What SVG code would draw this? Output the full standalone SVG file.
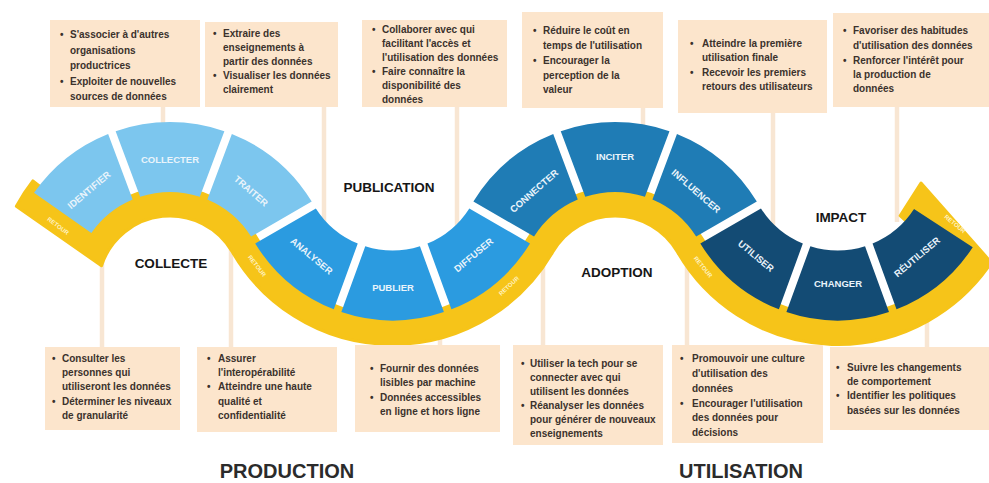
<svg xmlns="http://www.w3.org/2000/svg" width="989" height="483" viewBox="0 0 989 483">
<style>
.bx{fill:#FCE5CC}
.bt{font-family:"Liberation Sans",Arial,sans-serif;font-weight:bold;font-size:10px;fill:#3B322C}
.sl{font-family:"Liberation Sans",Arial,sans-serif;font-weight:bold;font-size:9.5px;fill:#EAF4FB;text-anchor:middle}
.ph{font-family:"Liberation Sans",Arial,sans-serif;font-weight:bold;font-size:13.5px;fill:#161616;text-anchor:middle}
.big{font-family:"Liberation Sans",Arial,sans-serif;font-weight:bold;font-size:20px;fill:#2B2B2B;text-anchor:middle}
.rt{font-family:"Liberation Sans",Arial,sans-serif;font-weight:bold;font-size:6px;fill:#FFF3C4;text-anchor:middle}
.cn line{stroke:#F8E6D3;stroke-width:4.5}
.y{fill:#F6C419;stroke:#F6C419;stroke-width:3;stroke-linejoin:round}
.c1{fill:#7CC6EE}.c2{fill:#2B9BE0}.c3{fill:#1F7CB5}.c4{fill:#134B74}
</style>
<rect width="989" height="483" fill="#fff"/>
<g id="connectors" class="cn">
<line x1="163" y1="105" x2="163" y2="135"/>
<line x1="324" y1="105" x2="324" y2="225"/>
<line x1="457" y1="105" x2="457" y2="228"/>
<line x1="643" y1="106" x2="643" y2="135"/>
<line x1="773" y1="111" x2="773" y2="228"/>
<line x1="897" y1="105" x2="897" y2="222"/>
<line x1="102" y1="349" x2="102" y2="260"/>
<line x1="231" y1="349" x2="231" y2="246"/>
<line x1="440" y1="347" x2="440" y2="336"/>
<line x1="543" y1="347" x2="543" y2="262"/>
<line x1="687" y1="347" x2="687" y2="262"/>
<line x1="927" y1="349" x2="927" y2="318"/>
</g>
<g id="band">
<path class="y" d="M16.37 206.31 A174 174 0 0 1 32.89 180.88 L91.2 226.43 A100 100 0 0 1 256.6 238 A157 157 0 0 0 528.57 238 A100 100 0 0 1 701.7 238 A157 157 0 0 0 954.37 264.55 L900.12 215.7 L921 183 L991.35 262.56 A185 185 0 0 1 677.49 252 A72 72 0 0 0 552.75 252 A185 185 0 0 1 232.39 252 A72 72 0 0 0 101.52 265.75 Z"/>
<text class="rt" transform="translate(58 226) rotate(37)" dy="2">RETOUR</text>
<text class="rt" transform="translate(257 266) rotate(52)" dy="2">RETOUR</text>
<text class="rt" transform="translate(509 286) rotate(-43)" dy="2">RETOUR</text>
<text class="rt" transform="translate(703 267) rotate(51)" dy="2">RETOUR</text>
<text class="rt" transform="translate(955 224) rotate(40)" dy="2">RETOUR</text>
</g>
<g id="identifier"><path class="c1" d="M34.02 192.79 A166 166 0 0 1 108.13 133.96 L132.66 199.56 A96 96 0 0 0 91.36 232.94 Z"/><text class="sl" transform="translate(89 190) rotate(-40)" dy="3.3">IDENTIFIER</text></g>
<g id="collecter"><path class="c1" d="M115.63 131.16 A166 166 0 0 1 224.37 131.16 L199.84 196.76 A96 96 0 0 0 140.16 196.76 Z"/><text class="sl" x="170" y="160" dy="3.3">COLLECTER</text></g>
<g id="traiter"><path class="c1" d="M231.87 133.96 A166 166 0 0 1 311.72 201.56 L251.07 236.58 A96 96 0 0 0 207.34 199.56 Z"/><text class="sl" transform="translate(251 191) rotate(41)" dy="3.3">TRAITER</text></g>
<g id="analyser"><path class="c2" d="M255.21 243.44 A161 161 0 0 0 333.79 309.37 L357.75 243.56 A91 91 0 0 1 315.87 208.42 Z"/><text class="sl" transform="translate(311.6 256) rotate(40)" dy="3.3">ANALYSER</text></g>
<g id="publier"><path class="c2" d="M341.31 312.11 A161 161 0 0 0 443.89 312.11 L419.94 246.3 A91 91 0 0 1 365.26 246.3 Z"/><text class="sl" x="393" y="288" dy="3.3">PUBLIER</text></g>
<g id="diffuser"><path class="c2" d="M451.41 309.37 A161 161 0 0 0 529.99 243.44 L469.33 208.42 A91 91 0 0 1 427.45 243.56 Z"/><text class="sl" transform="translate(473.6 255) rotate(-40)" dy="3.3">DIFFUSER</text></g>
<g id="connecter"><path class="c3" d="M473.38 201.56 A166 166 0 0 1 553.23 133.96 L577.76 199.56 A96 96 0 0 0 534.03 236.58 Z"/><text class="sl" transform="translate(534 191) rotate(-41)" dy="3.3">CONNECTER</text></g>
<g id="inciter"><path class="c3" d="M560.73 131.16 A166 166 0 0 1 669.47 131.16 L644.94 196.76 A96 96 0 0 0 585.26 196.76 Z"/><text class="sl" x="615" y="157" dy="3.3">INCITER</text></g>
<g id="influencer"><path class="c3" d="M676.97 133.96 A166 166 0 0 1 756.82 201.56 L696.17 236.58 A96 96 0 0 0 652.44 199.56 Z"/><text class="sl" transform="translate(696 191) rotate(41)" dy="3.3">INFLUENCER</text></g>
<g id="utiliser"><path class="c4" d="M700.31 243.44 A161 161 0 0 0 778.89 309.37 L802.85 243.56 A91 91 0 0 1 760.97 208.42 Z"/><text class="sl" transform="translate(756 256) rotate(40)" dy="3.3">UTILISER</text></g>
<g id="changer"><path class="c4" d="M786.41 312.11 A161 161 0 0 0 888.99 312.11 L865.04 246.3 A91 91 0 0 1 810.36 246.3 Z"/><text class="sl" x="838" y="284" dy="3.3">CHANGER</text></g>
<g id="reutiliser"><path class="c4" d="M896.51 309.37 A161 161 0 0 0 972.73 247.19 L914.02 209.06 A91 91 0 0 1 872.55 243.56 Z"/><text class="sl" transform="translate(917 257) rotate(-40)" dy="3.3">RÉUTILISER</text></g>
<g id="phases">
<text class="ph" x="171" y="268">COLLECTE</text>
<text class="ph" x="389" y="192">PUBLICATION</text>
<text class="ph" x="617" y="277">ADOPTION</text>
<text class="ph" x="841" y="222">IMPACT</text>
<text class="big" x="287" y="478">PRODUCTION</text>
<text class="big" x="741" y="478">UTILISATION</text>
</g>
<g id="box-t1"><rect class="bx" x="50" y="20" width="150" height="87"/><text class="bt"><tspan x="60" y="38">•</tspan><tspan x="70" y="38">S'associer à d'autres</tspan><tspan x="70" y="53.5">organisations</tspan><tspan x="70" y="69">productrices</tspan><tspan x="60" y="84.5">•</tspan><tspan x="70" y="84.5">Exploiter de nouvelles</tspan><tspan x="70" y="100">sources de données</tspan></text></g>
<g id="box-t2"><rect class="bx" x="205" y="22" width="133" height="85"/><text class="bt"><tspan x="213" y="37">•</tspan><tspan x="223" y="37">Extraire des</tspan><tspan x="223" y="51">enseignements à</tspan><tspan x="223" y="65">partir des données</tspan><tspan x="213" y="79">•</tspan><tspan x="223" y="79">Visualiser les données</tspan><tspan x="223" y="93">clairement</tspan></text></g>
<g id="box-t3"><rect class="bx" x="362" y="20" width="145" height="87"/><text class="bt"><tspan x="372" y="33">•</tspan><tspan x="382" y="33">Collaborer avec qui</tspan><tspan x="382" y="47">facilitant l'accès et</tspan><tspan x="382" y="61">l'utilisation des données</tspan><tspan x="372" y="75">•</tspan><tspan x="382" y="75">Faire connaître la</tspan><tspan x="382" y="89">disponibilité des</tspan><tspan x="382" y="103">données</tspan></text></g>
<g id="box-t4"><rect class="bx" x="522" y="12" width="141" height="96"/><text class="bt"><tspan x="533" y="34">•</tspan><tspan x="543" y="34">Réduire le coût en</tspan><tspan x="543" y="49">temps de l'utilisation</tspan><tspan x="533" y="64">•</tspan><tspan x="543" y="64">Encourager la</tspan><tspan x="543" y="79">perception de la</tspan><tspan x="543" y="93">valeur</tspan></text></g>
<g id="box-t5"><rect class="bx" x="678" y="20" width="149" height="93"/><text class="bt"><tspan x="690" y="47">•</tspan><tspan x="702" y="47">Atteindre la première</tspan><tspan x="702" y="61">utilisation finale</tspan><tspan x="690" y="76">•</tspan><tspan x="702" y="76">Recevoir les premiers</tspan><tspan x="702" y="90">retours des utilisateurs</tspan></text></g>
<g id="box-t6"><rect class="bx" x="833" y="13" width="156" height="94"/><text class="bt"><tspan x="843" y="34">•</tspan><tspan x="853" y="34">Favoriser des habitudes</tspan><tspan x="853" y="49">d'utilisation des données</tspan><tspan x="843" y="64">•</tspan><tspan x="853" y="64">Renforcer l'intérêt pour</tspan><tspan x="853" y="78">la production de</tspan><tspan x="853" y="92">données</tspan></text></g>
<g id="box-b1"><rect class="bx" x="45" y="347" width="135" height="83"/><text class="bt"><tspan x="52" y="362">•</tspan><tspan x="62" y="362">Consulter les</tspan><tspan x="62" y="376">personnes qui</tspan><tspan x="62" y="390">utiliseront les données</tspan><tspan x="52" y="405">•</tspan><tspan x="62" y="405">Déterminer les niveaux</tspan><tspan x="62" y="419">de granularité</tspan></text></g>
<g id="box-b2"><rect class="bx" x="197" y="347" width="140" height="85"/><text class="bt"><tspan x="207" y="362">•</tspan><tspan x="218" y="362">Assurer</tspan><tspan x="218" y="376">l'interopérabilité</tspan><tspan x="207" y="390">•</tspan><tspan x="218" y="390">Atteindre une haute</tspan><tspan x="218" y="405">qualité et</tspan><tspan x="218" y="419">confidentialité</tspan></text></g>
<g id="box-b3"><rect class="bx" x="355" y="345" width="145" height="87"/><text class="bt"><tspan x="370" y="372">•</tspan><tspan x="380" y="372">Fournir des données</tspan><tspan x="380" y="386">lisibles par machine</tspan><tspan x="370" y="401">•</tspan><tspan x="380" y="401">Données accessibles</tspan><tspan x="380" y="415">en ligne et hors ligne</tspan></text></g>
<g id="box-b4"><rect class="bx" x="513" y="345" width="150" height="100"/><text class="bt"><tspan x="521" y="367">•</tspan><tspan x="530" y="367">Utiliser la tech pour se</tspan><tspan x="530" y="381">connecter avec qui</tspan><tspan x="530" y="395">utilisent les données</tspan><tspan x="521" y="409">•</tspan><tspan x="530" y="409">Réanalyser les données</tspan><tspan x="530" y="423">pour générer de nouveaux</tspan><tspan x="530" y="437">enseignements</tspan></text></g>
<g id="box-b5"><rect class="bx" x="672" y="345" width="151" height="98"/><text class="bt"><tspan x="680" y="362">•</tspan><tspan x="692" y="362">Promouvoir une culture</tspan><tspan x="692" y="377">d'utilisation des</tspan><tspan x="692" y="392">données</tspan><tspan x="680" y="407">•</tspan><tspan x="692" y="407">Encourager l'utilisation</tspan><tspan x="692" y="421">des données pour</tspan><tspan x="692" y="436">décisions</tspan></text></g>
<g id="box-b6"><rect class="bx" x="830" y="347" width="159" height="83"/><text class="bt"><tspan x="836" y="371">•</tspan><tspan x="847" y="371">Suivre les changements</tspan><tspan x="847" y="385">de comportement</tspan><tspan x="836" y="399">•</tspan><tspan x="847" y="399">Identifier les politiques</tspan><tspan x="847" y="414">basées sur les données</tspan></text></g>
</svg>
